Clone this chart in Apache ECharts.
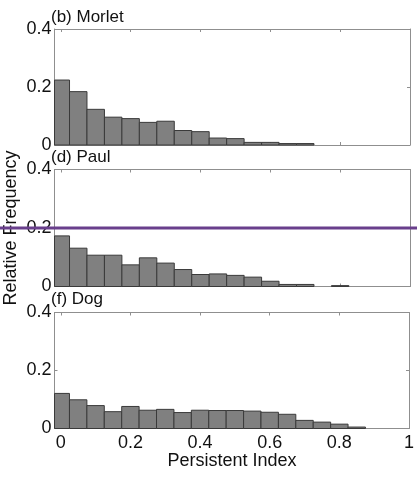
<!DOCTYPE html>
<html>
<head>
<meta charset="utf-8">
<script src="https://cdn.jsdelivr.net/npm/echarts@6/dist/echarts.min.js"></script>
<style>
  html, body { margin: 0; padding: 0; background: #ffffff; }
  #main { width: 417px; height: 482px; }
</style>
</head>
<body>
<div id="main"></div>
<script>
// Histogram bin centres (Persistent Index) and bin width
const binCenters = [0, 0.05, 0.1, 0.15, 0.2, 0.25, 0.3, 0.35, 0.4, 0.45, 0.5,
                    0.55, 0.6, 0.65, 0.7, 0.75, 0.8, 0.85, 0.9, 0.95, 1.0];
const binWidth = 0.05;

// Relative frequency per bin for each wavelet
const morlet = [0.224, 0.184, 0.123, 0.096, 0.091, 0.078, 0.082, 0.050, 0.046, 0.024, 0.022,
                0.009, 0.009, 0.005, 0.005, 0, 0, 0, 0, 0, 0];
const paul   = [0.173, 0.131, 0.107, 0.107, 0.074, 0.098, 0.080, 0.058, 0.041, 0.043, 0.038,
                0.032, 0.018, 0.007, 0.007, 0, 0.003, 0, 0, 0, 0];
const dog    = [0.121, 0.099, 0.079, 0.058, 0.076, 0.063, 0.066, 0.055, 0.063, 0.062, 0.062,
                0.060, 0.056, 0.049, 0.028, 0.022, 0.015, 0.005, 0, 0, 0];

const panelTitles = ['(b) Morlet', '(d) Paul', '(f) Dog'];
const panelData = [morlet, paul, dog];

// Tick labels
const xTicks = [0, 0.2, 0.4, 0.6, 0.8, 1];
const yTicks = [0, 0.2, 0.4];
const refLevel = 0.2;   // horizontal reference line on the Paul panel

const xLabel = 'Persistent Index';
const yLabel = 'Relative Frequency';

const FONT = '"Liberation Sans", Arial, Helvetica, sans-serif';
const frameColor = '#8f8f8f';
const textColor = '#111111';

const tops = [29, 169.5, 312.5];
const heights = [116, 117, 116];

const chart = echarts.init(document.getElementById('main'), null, { renderer: 'canvas' });

const grids = [], xAxes = [], yAxes = [], series = [];
panelData.forEach((vals, i) => {
  grids.push({ left: 54.5, right: 7, top: tops[i], height: heights[i] });
  const frameLine = { show: true, onZero: false, lineStyle: { color: frameColor, width: 1 } };
  const tick = { show: true, inside: true, length: 3, lineStyle: { color: frameColor } };
  ['bottom', 'top'].forEach(pos => {
    xAxes.push({
      gridIndex: i, type: 'value', position: pos, min: -0.018, max: 1,
      axisLine: frameLine,
      axisTick: Object.assign({}, tick, { customValues: xTicks }),
      axisLabel: {
        show: pos === 'bottom' && i === panelData.length - 1,
        customValues: xTicks, margin: 6,
        fontSize: 18, fontFamily: FONT, color: textColor
      },
      splitLine: { show: false }
    });
  });
  ['left', 'right'].forEach(pos => {
    yAxes.push({
      gridIndex: i, type: 'value', position: pos, min: yTicks[0], max: yTicks[yTicks.length - 1], interval: 0.2,
      axisLine: frameLine,
      axisTick: tick,
      axisLabel: {
        show: pos === 'left', margin: 3,
        fontSize: 18, fontFamily: FONT, color: textColor
      },
      splitLine: { show: false }
    });
  });
  series.push({
    type: 'custom',
    xAxisIndex: 2 * i,
    yAxisIndex: 2 * i,
    data: binCenters.map((c, k) => [c, vals[k]]),
    encode: { x: 0, y: 1 },
    renderItem: function (params, api) {
      const c = api.value(0), v = api.value(1);
      if (!v) return null;
      const p0 = api.coord([c - binWidth / 2, v]);
      const p1 = api.coord([c + binWidth / 2, 0]);
      const cs = params.coordSys;
      const rect = echarts.graphic.clipRectByRect(
        { x: p0[0], y: p0[1], width: p1[0] - p0[0], height: p1[1] - p0[1] },
        { x: cs.x, y: cs.y, width: cs.width, height: cs.height }
      );
      if (!rect) return null;
      return {
        type: 'rect',
        shape: rect,
        style: { fill: '#808080', stroke: '#3a3a3a', lineWidth: 1 }
      };
    }
  });
});

chart.setOption({
  animation: false,
  backgroundColor: '#ffffff',
  grid: grids,
  xAxis: xAxes,
  yAxis: yAxes,
  series: series
});

// Panel titles, axis names and the reference line
const refY = chart.convertToPixel({ yAxisIndex: 2 }, refLevel);
const titleY = [17, 157.5, 299];
const graphics = panelTitles.map((t, i) => ({
  type: 'text', x: 51, y: titleY[i], z: 10,
  style: { text: t, fontSize: 17, fontFamily: FONT, fill: textColor, textAlign: 'left', textVerticalAlign: 'middle' }
}));
graphics.push({
  type: 'text', x: 232, y: 461, z: 10,
  style: { text: xLabel, fontSize: 18, fontFamily: FONT, fill: textColor, textAlign: 'center', textVerticalAlign: 'middle' }
});
graphics.push({
  type: 'text', x: 11, y: 228, rotation: Math.PI / 2, z: 10,
  style: { text: yLabel, fontSize: 18, fontFamily: FONT, fill: textColor, textAlign: 'center', textVerticalAlign: 'middle' }
});
graphics.push({
  type: 'line', z: 20,
  shape: { x1: 0, y1: refY, x2: 417, y2: refY },
  style: { stroke: '#693f8c', lineWidth: 3 }
});
chart.setOption({ graphic: graphics });
</script>
</body>
</html>
